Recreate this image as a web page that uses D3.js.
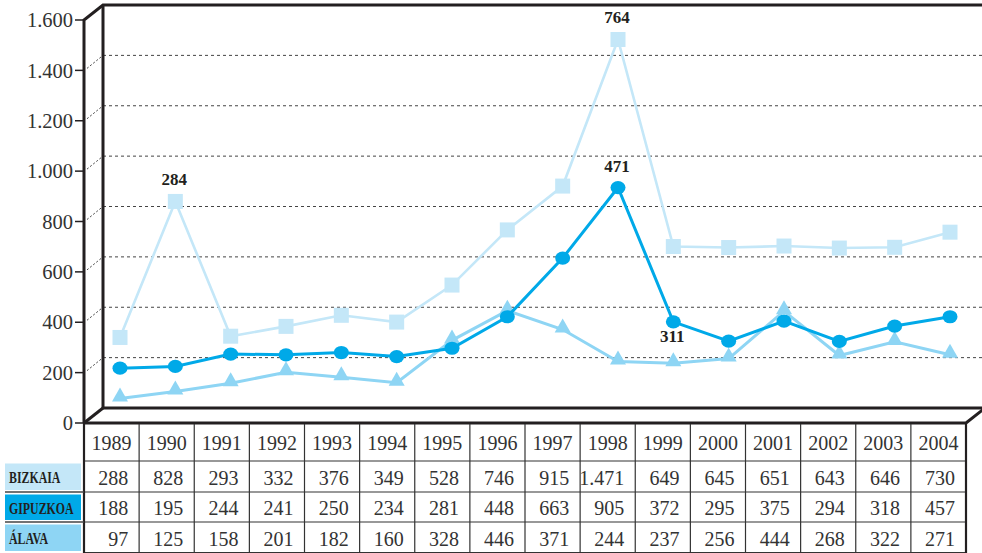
<!DOCTYPE html>
<html><head><meta charset="utf-8">
<script src="https://cdn.jsdelivr.net/npm/d3@7/dist/d3.min.js"></script>
<style>html,body{margin:0;padding:0;background:#fff;}svg{display:block;}</style>
</head><body>
<svg id="chart" width="982" height="553"></svg>
<script>
// table values
const years = [1989,1990,1991,1992,1993,1994,1995,1996,1997,1998,1999,2000,2001,2002,2003,2004];
const bizkaia  = [288,828,293,332,376,349,528,746,915,1471,649,645,651,643,646,730];
const gipuzkoa = [188,195,244,241,250,234,281,448,663,905,372,295,375,294,318,457];
const alava    = [97,125,158,201,182,160,328,446,371,244,237,256,444,268,322,271];
const bizkaiaLabels = ["288","828","293","332","376","349","528","746","915","1.471","649","645","651","643","646","730"];
// values as the lines are drawn in the picture
const bizkaiaLine  = [288,828,293,332,376,349,496,715,889,1471,649,645,651,643,646,706];
const gipuzkoaLine = [188,195,244,241,250,234,267,392,625,905,372,295,375,294,355,392];
const alavaLine    = [97,125,158,201,182,160,328,446,371,244,237,256,444,268,322,271];
const seriesNames = ["BIZKAIA","GIPUZKOA","ÁLAVA"];
const tickValues = [0,200,400,600,800,1000,1200,1400,1600];
const tickLabels = ["0","200","400","600","800","1.000","1.200","1.400","1.600"];
const annotations = [
  {series:"BIZKAIA", year:1990, text:"284", place:"above"},
  {series:"BIZKAIA", year:1998, text:"764", place:"above"},
  {series:"GIPUZKOA", year:1998, text:"471", place:"above"},
  {series:"GIPUZKOA", year:1999, text:"311", place:"below"}
];

(function(){
const svg = d3.select("#chart");
const ink = "#231f20";
const serif = "'Liberation Serif','DejaVu Serif',serif";
const colors = {"BIZKAIA":"#c4e7f8","GIPUZKOA":"#00a9e8","ÁLAVA":"#8ed5f4"};
const markers = {"BIZKAIA":"square","GIPUZKOA":"circle","ÁLAVA":"triangle"};
const lineValues = {"BIZKAIA":bizkaiaLine,"GIPUZKOA":gipuzkoaLine,"ÁLAVA":alavaLine};
const depth = {"BIZKAIA":-13,"GIPUZKOA":-7.5,"ÁLAVA":0};
const cellText = {"BIZKAIA":bizkaiaLabels,"GIPUZKOA":gipuzkoa.map(String),"ÁLAVA":alava.map(String)};

const left = 84, right = 966, base = 423, plotTop = 20;
const depthX = 19, depthY = -15;
const x = d3.scaleBand().domain(years).range([left, right]);
const xp = d3.scalePoint().domain(years).range([120, 950]);
const y = d3.scaleLinear().domain([0,1600]).range([base, plotTop]);
const py = (name, v) => y(v) + depth[name];

// back wall gridlines (dotted)
const grid = tickValues.filter(v => v > 0 && v < 1600);
svg.append("g").selectAll("line").data(grid).join("line")
  .attr("x1", left+depthX).attr("x2", 982)
  .attr("y1", d => y(d)+depthY).attr("y2", d => y(d)+depthY)
  .attr("stroke","#444").attr("stroke-width",1).attr("stroke-dasharray","3,3");
svg.append("g").selectAll("line").data(grid).join("line")
  .attr("x1", left+3).attr("y1", d => y(d)-2)
  .attr("x2", left+depthX).attr("y2", d => y(d)+depthY)
  .attr("stroke","#444").attr("stroke-width",1).attr("stroke-dasharray","2,2");

// frame (thick)
const frame = svg.append("g").attr("stroke", ink).attr("stroke-width",3).attr("fill","none");
frame.append("path").attr("d", `M${left},${base}V${plotTop}L${left+depthX},${plotTop+depthY}H982`);
frame.append("path").attr("d", `M${left+depthX},${plotTop+depthY}V${base+depthY}H982`);
frame.append("path").attr("d", `M${left},${base}L${left+depthX},${base+depthY}`);
frame.append("path").attr("d", `M${left},${base}H${right}L${right+depthX},${base+depthY}`);

// y axis ticks and labels
const ax = svg.append("g");
ax.selectAll("line").data(tickValues).join("line")
  .attr("x1", left-9).attr("x2", left).attr("y1", d=>y(d)).attr("y2", d=>y(d))
  .attr("stroke", ink).attr("stroke-width",1.5);
ax.selectAll("text").data(tickValues).join("text")
  .attr("x", left-11).attr("y", d=>y(d)).attr("dy","0.35em")
  .attr("text-anchor","end").attr("font-family",serif).attr("font-size",20.5).attr("fill","#333")
  .text((d,i)=>tickLabels[i]);

// series lines & markers
const order = ["BIZKAIA","ÁLAVA","GIPUZKOA"];
order.forEach(name => {
  const g = svg.append("g");
  const col = colors[name];
  const lineGen = d3.line().x((d,i)=>xp(years[i])).y(d=>py(name,d));
  g.append("path").datum(lineValues[name]).attr("d", lineGen)
    .attr("fill","none").attr("stroke", col).attr("stroke-width", name==="BIZKAIA"?2.6:3);
  const pts = lineValues[name].map((v,i)=>({x:xp(years[i]), y:py(name,v)}));
  if (markers[name]==="square") {
    g.selectAll("rect").data(pts).join("rect")
      .attr("x",d=>d.x-7.5).attr("y",d=>d.y-7.5).attr("width",15).attr("height",15).attr("fill",col);
  } else if (markers[name]==="circle") {
    g.selectAll("ellipse").data(pts).join("ellipse")
      .attr("cx",d=>d.x).attr("cy",d=>d.y).attr("rx",7.5).attr("ry",6.6).attr("fill",col);
  } else {
    g.selectAll("path.m").data(pts).join("path").attr("class","m")
      .attr("d",d=>`M${d.x},${d.y-11}L${d.x+8},${d.y+3}L${d.x-8},${d.y+3}Z`).attr("fill",col);
  }
});

// annotations
svg.append("g").selectAll("text").data(annotations).join("text")
  .attr("x", d => xp(d.year) - 1)
  .attr("y", d => { const v = lineValues[d.series][years.indexOf(d.year)]; return d.place==="above" ? py(d.series,v)-16 : py(d.series,v)+20; })
  .attr("text-anchor","middle").attr("font-family",serif).attr("font-weight","bold")
  .attr("font-size",17).attr("fill",ink).text(d=>d.text);

// data table
const rowTops = [423, 461, 492, 522];
const rowBottom = 553;
const tbl = svg.append("g");
[461,492,522,552.5].forEach(yy => {
  tbl.append("line").attr("x1",left).attr("x2",right).attr("y1",yy).attr("y2",yy)
    .attr("stroke","#333").attr("stroke-width",1.2);
});
years.forEach((yr,i) => {
  if (i>0) tbl.append("line").attr("x1",x(yr)).attr("x2",x(yr)).attr("y1",424).attr("y2",rowBottom)
    .attr("stroke","#333").attr("stroke-width",1.2);
});
tbl.append("line").attr("x1",left).attr("x2",left).attr("y1",423).attr("y2",rowBottom).attr("stroke",ink).attr("stroke-width",2.2);
tbl.append("line").attr("x1",right).attr("x2",right).attr("y1",423).attr("y2",rowBottom).attr("stroke",ink).attr("stroke-width",2.2);
tbl.selectAll("text.yr").data(years).join("text").attr("class","yr")
  .attr("x", d => x(d)+x.bandwidth()/2).attr("y", 443).attr("dy","0.35em")
  .attr("text-anchor","middle").attr("font-family",serif).attr("font-size",20).attr("fill","#333")
  .text(d=>d);
seriesNames.forEach((name, r) => {
  const rt = rowTops[r+1], rb = r<2 ? rowTops[r+2] : rowBottom;
  const cy = (rt+rb)/2 + 1;
  tbl.append("rect").attr("x",5).attr("y",rt+2.5).attr("width",76).attr("height",rb-rt-4.5).attr("fill",colors[name]);
  tbl.append("text").attr("transform",`translate(9,${cy}) scale(0.72,1)`).attr("dy","0.36em")
    .attr("font-family",serif).attr("font-weight","bold").attr("font-size",16.5).attr("fill",ink)
    .text(name);
  tbl.selectAll(`text.v${r}`).data(cellText[name]).join("text").attr("class",`v${r}`)
    .attr("x",(d,i)=>x(years[i])+x.bandwidth()-11).attr("y",cy).attr("dy","0.35em")
    .attr("text-anchor","end").attr("font-family",serif).attr("font-size",20).attr("fill","#333")
    .text(d=>d);
});
[492,522].forEach(yy => tbl.append("line").attr("x1",5).attr("x2",left).attr("y1",yy).attr("y2",yy).attr("stroke","#444").attr("stroke-width",1.5));
})();
</script>
</body></html>
